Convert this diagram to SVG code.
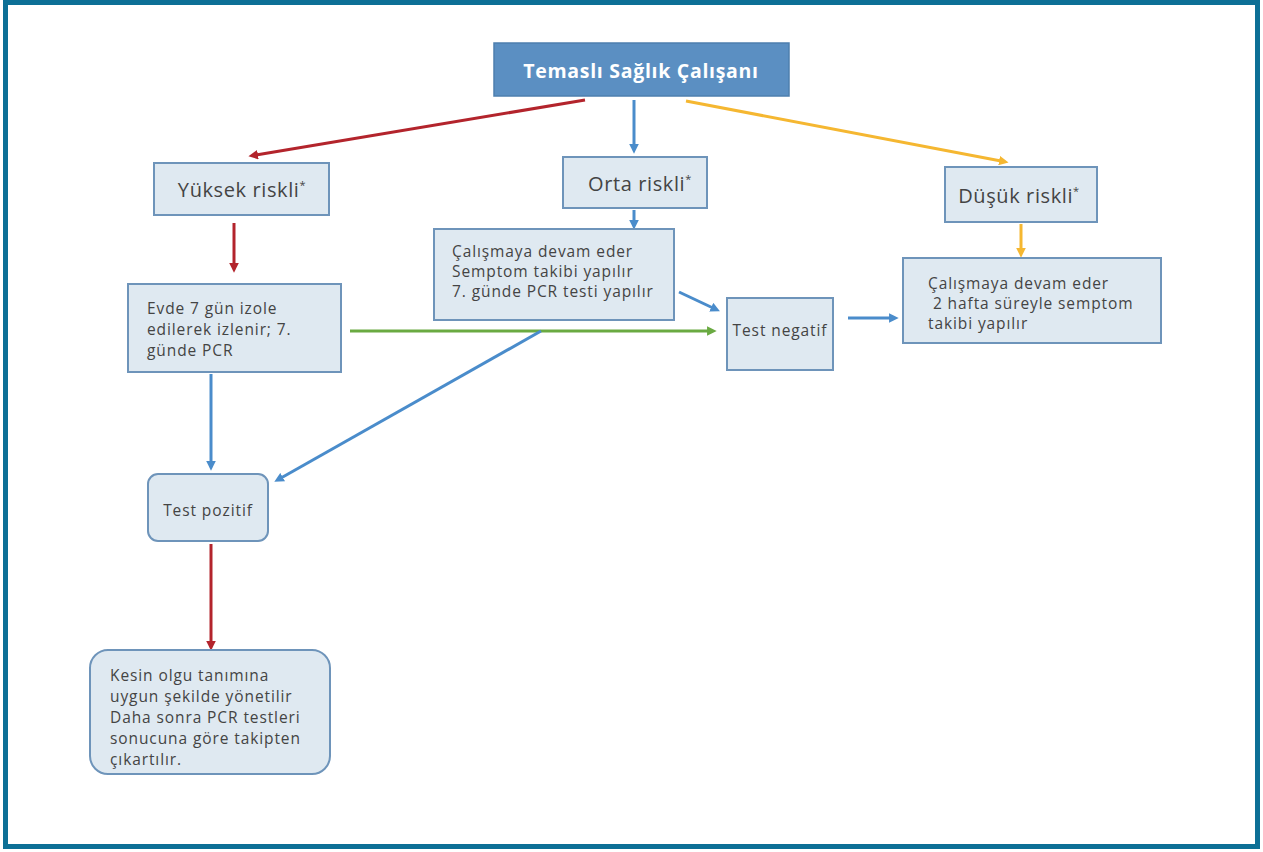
<svg xmlns="http://www.w3.org/2000/svg" width="1263" height="852" viewBox="0 0 1263 852">
<style>
.box{fill:#dfe9f1;stroke:#6e94ba;stroke-width:2}
.t{font-family:"Open Sans","Liberation Sans",sans-serif;fill:#444;font-size:15.5px;letter-spacing:0.9px}
.tl{font-family:"Open Sans","Liberation Sans",sans-serif;fill:#444;font-size:20px;letter-spacing:0.6px}
.c{fill:none;stroke-width:3}
.red{stroke:#b3242c}.blue{stroke:#4a8ccb}.yel{stroke:#f5b731}.grn{stroke:#6aaa42}
</style>
<defs>
<marker id="ar" viewBox="0 0 10 10" refX="2" refY="5" markerWidth="3.2" markerHeight="3.2" orient="auto"><path d="M0,0L10,5L0,10z" fill="#b3242c"/></marker>
<marker id="ab" viewBox="0 0 10 10" refX="2" refY="5" markerWidth="3.2" markerHeight="3.2" orient="auto"><path d="M0,0L10,5L0,10z" fill="#4a8ccb"/></marker>
<marker id="ay" viewBox="0 0 10 10" refX="2" refY="5" markerWidth="3.2" markerHeight="3.2" orient="auto"><path d="M0,0L10,5L0,10z" fill="#f5b731"/></marker>
<marker id="ag" viewBox="0 0 10 10" refX="2" refY="5" markerWidth="3.2" markerHeight="3.2" orient="auto"><path d="M0,0L10,5L0,10z" fill="#6aaa42"/></marker>
</defs>
<rect x="0" y="0" width="1263" height="852" fill="#fff"/>
<rect x="5.5" y="2.5" width="1252" height="844" fill="none" stroke="#0d7096" stroke-width="5"/>
<g id="connectors">
<path class="c red" d="M585,100L256,155" marker-end="url(#ar)"/>
<path class="c blue" d="M634,100L634,146" marker-end="url(#ab)"/>
<path class="c yel" d="M686,101L1001,161" marker-end="url(#ay)"/>
<path class="c red" d="M234,223L234,265" marker-end="url(#ar)"/>
<path class="c blue" d="M634,210L634,222" marker-end="url(#ab)"/>
<path class="c yel" d="M1021,224L1021,250" marker-end="url(#ay)"/>
<path class="c blue" d="M679,292L713,308" marker-end="url(#ab)"/>
<path class="c grn" d="M350,331L709,331" marker-end="url(#ag)"/>
<path class="c blue" d="M848,318L891,318" marker-end="url(#ab)"/>
<path class="c blue" d="M541,331L281,478" marker-end="url(#ab)"/>
<path class="c blue" d="M211,374L211,463" marker-end="url(#ab)"/>
<path class="c red" d="M211,544L211,643" marker-end="url(#ar)"/>
</g>
<g id="n-top"><rect x="494" y="43" width="295" height="53" fill="#5b8fc2" stroke="#4d7fae" stroke-width="1.5"/><text x="641" y="78" text-anchor="middle" font-family="'Open Sans','Liberation Sans',sans-serif" font-weight="bold" font-size="19.5" letter-spacing="0.7" fill="#fff">Temaslı Sağlık Çalışanı</text></g>
<g id="n-yuksek"><rect class="box" x="154" y="163" width="175" height="52"/><text class="tl" x="242" y="197" text-anchor="middle">Yüksek riskli<tspan font-size="11" dy="-8">*</tspan></text></g>
<g id="n-orta"><rect class="box" x="563" y="157" width="144" height="51"/><text class="tl" x="640" y="191" text-anchor="middle">Orta riskli<tspan font-size="11" dy="-8">*</tspan></text></g>
<g id="n-dusuk"><rect class="box" x="945" y="167" width="152" height="55"/><text class="tl" x="1019" y="203" text-anchor="middle">Düşük riskli<tspan font-size="11" dy="-8">*</tspan></text></g>
<g id="n-orta-detay"><rect class="box" x="434" y="229" width="240" height="91"/><text class="t" x="452" y="257">Çalışmaya devam eder</text><text class="t" x="452" y="277">Semptom takibi yapılır</text><text class="t" x="452" y="297">7. günde PCR testi yapılır</text></g>
<g id="n-evde"><rect class="box" x="128" y="284" width="213" height="88"/><text class="t" x="147" y="314">Evde 7 gün izole</text><text class="t" x="147" y="335">edilerek izlenir; 7.</text><text class="t" x="147" y="356">günde PCR</text></g>
<g id="n-negatif"><rect class="box" x="727" y="298" width="106" height="72"/><text class="t" x="780" y="336" text-anchor="middle" letter-spacing="0">Test negatif</text></g>
<g id="n-dusuk-detay"><rect class="box" x="903" y="258" width="258" height="85"/><text class="t" x="928" y="289">Çalışmaya devam eder</text><text class="t" x="928" y="309" xml:space="preserve"> 2 hafta süreyle semptom</text><text class="t" x="928" y="329">takibi yapılır</text></g>
<g id="n-pozitif"><rect class="box" x="148" y="474" width="120" height="67" rx="10"/><text class="t" x="208" y="516" text-anchor="middle">Test pozitif</text></g>
<g id="n-kesin"><rect class="box" x="90" y="650" width="240" height="124" rx="18"/><text class="t" x="110" y="681">Kesin olgu tanımına</text><text class="t" x="110" y="702">uygun şekilde yönetilir</text><text class="t" x="110" y="723">Daha sonra PCR testleri</text><text class="t" x="110" y="744">sonucuna göre takipten</text><text class="t" x="110" y="765">çıkartılır.</text></g>
</svg>
